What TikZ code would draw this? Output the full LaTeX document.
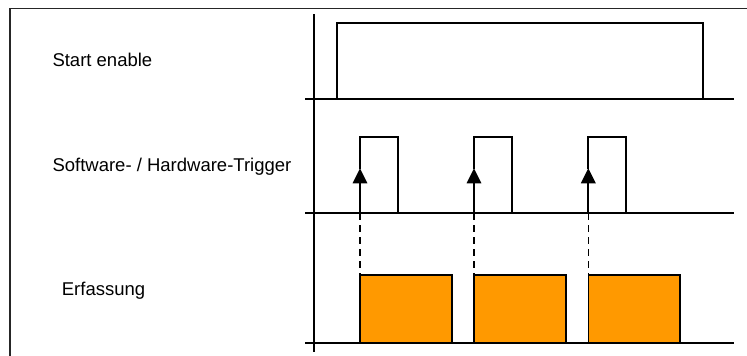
\documentclass[tikz,border=0pt]{standalone}
\usepackage{fontspec}
\setmainfont{Liberation Sans}
\usetikzlibrary{arrows.meta}
\definecolor{acqorange}{HTML}{FF9900}
\begin{document}
\begin{tikzpicture}[x=1pt,y=-1pt,
  sig/.style={line width=1.8pt,line cap=rect},
  framel/.style={line width=1.5pt,draw=black!85},
  lbl/.style={anchor=base west,inner sep=0pt,font=\fontsize{18.5}{22}\selectfont},
  trigarrow/.style={line width=1.8pt,-{Triangle[length=15pt,width=14.5pt]}},
  dashl/.style={line width=1.6pt,dash pattern=on 7pt off 5pt},
  acqbox/.style={line width=1.6pt,draw=black,fill=acqorange}]
\useasboundingbox (0,0) rectangle (747,356);
% frame
\draw[framel] (747,8.3) -- (10,8.3) -- (10,356);
% labels
\node[lbl] (l1) at (52.3,66) {Start enable};
\node[lbl] (l2) at (52.3,171.5) {Software- / Hardware-Trigger};
\node[lbl] (l3) at (61.7,295.3) {Erfassung};
% time axis
\draw[sig] (314,15) -- (314,351.5);
\coordinate (b1w) at (306,99.3); \coordinate (b1e) at (733.3,99.3);
\coordinate (b2w) at (306,213.3); \coordinate (b2e) at (733.3,213.3);
\coordinate (b3w) at (306,342.7); \coordinate (b3e) at (733.3,342.7);
\draw[sig] (b1w) -- (b1e);
\draw[sig] (b2w) -- (b2e);
\draw[sig] (b3w) -- (b3e);
% start enable
\draw[sig] (337,99.3) -- (337,22.7) -- (702.7,22.7) -- (702.7,99.3);
% triggers
\foreach \r/\f/\e/\n in {360/398.3/451.7/1,474/512.3/565.7/2,588.3/626.3/679.7/3}{
  \coordinate (t\n) at (\r,213.3);
  \coordinate (h\n) at (\r,168.3);
  \coordinate (a\n) at (\r,274.7);
  \draw[sig] (h\n) -- (\r,136.7) -- (\f,136.7) -- (\f,213.3);
  \draw[trigarrow] (t\n) -- (h\n);
  \draw[dashl] (t\n) -- (a\n);
  \draw[acqbox] (a\n) rectangle (\e,342.7);
}
\end{tikzpicture}
\end{document}
